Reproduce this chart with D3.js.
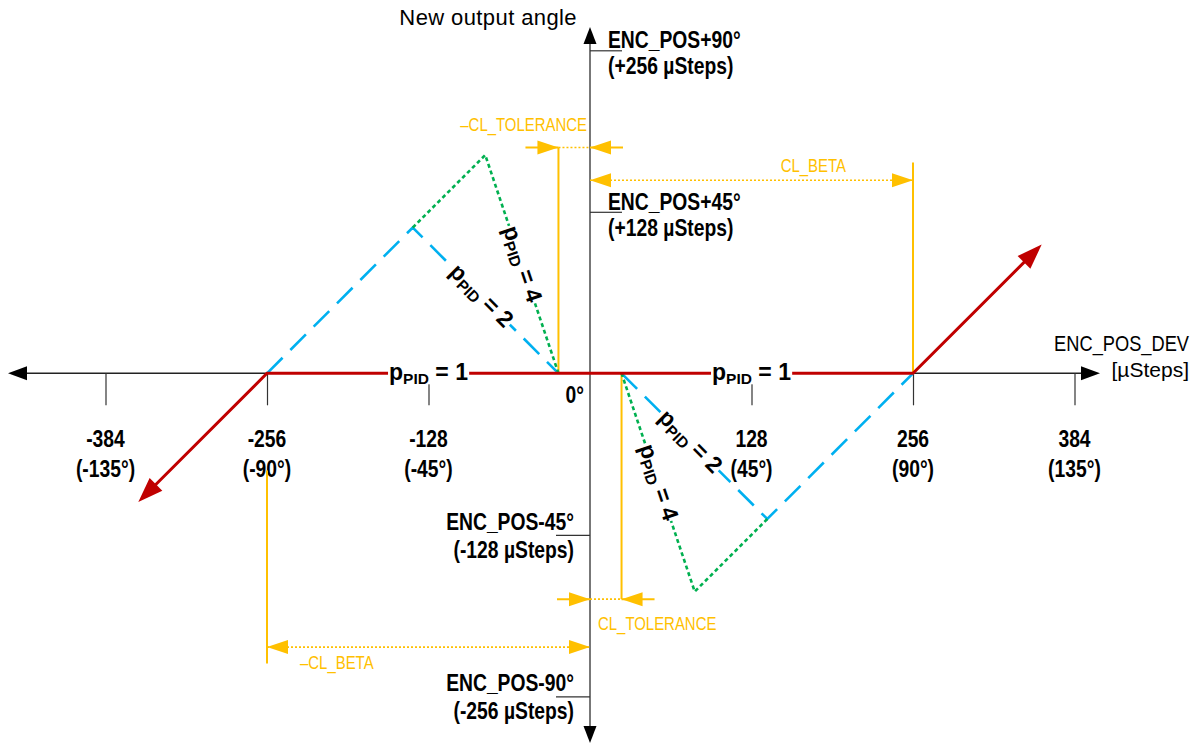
<!DOCTYPE html>
<html>
<head>
<meta charset="utf-8">
<script src="https://cdn.jsdelivr.net/npm/d3@7"></script>
<style>
  body { margin: 0; background: #fff; }
  svg { display: block; font-family: "Liberation Sans", Arial, sans-serif; }
  text { white-space: pre; }
</style>
</head>
<body>
<svg id="chart" width="1201" height="744"></svg>
<script>
// Data
// ----
const xTicks = [-384, -256, -128, 128, 256, 384];
const xTickAngles = ["(-135°)", "(-90°)", "(-45°)", "(45°)", "(90°)", "(135°)"];
const yTicks = [256, 128, -128, -256];
const yTickNames = ["ENC_POS+90°", "ENC_POS+45°", "ENC_POS-45°", "ENC_POS-90°"];
const yTickSteps = ["(+256 µSteps)", "(+128 µSteps)", "(-128 µSteps)", "(-256 µSteps)"];

const clTolerance = 25;
const clBeta = 256;

// new output angle over ENC_POS_DEV, one polyline per pPID
const pid1Line = [[-358, -102], [-256, 0], [256, 0], [358, 102]];
const pid2Left = [[-256, 0], [-140.5, 115.5], [-25, 0]];
const pid2Right = [[25, 0], [140.5, -115.5], [256, 0]];
const pid4Left = [[-140.5, 115.5], [-83, 173], [-25, 0]];
const pid4Right = [[140.5, -115.5], [83, -173], [25, 0]];

// Colours
const RED = "#c00000", BLUE = "#00b0f0", GREEN = "#00b050", GOLD = "#ffc000";

// Scales
// ------
const svg = d3.select("#chart");
const x = d3.scaleLinear().domain([-384, 384]).range([105.5, 1074.5]);
const y = d3.scaleLinear().domain([-256, 256]).range([696.3, 50.3]);
const line = d3.line().x(d => x(d[0])).y(d => y(d[1]));
const x0 = x(0), y0 = y(0);

function arrowHead(g, tx, ty, angle, len, half, color) {
  const ca = Math.cos(angle), sa = Math.sin(angle);
  const bx = tx - len * ca, by = ty - len * sa;
  const pts = [[tx, ty], [bx - half * sa, by + half * ca], [bx + half * sa, by - half * ca]];
  g.append("path").attr("d", "M" + pts.join("L") + "Z").attr("fill", color);
}

// text squeezed horizontally (the original uses a condensed face)
function label(g, str, px, py, o) {
  o = Object.assign({ size: 23, weight: "bold", anchor: "start", fill: "#000", sx: 0.84 }, o);
  return g.append("text")
    .attr("transform", `translate(${px},${py}) scale(${o.sx},1)`)
    .attr("font-size", o.size).attr("font-weight", o.weight)
    .attr("text-anchor", o.anchor).attr("fill", o.fill).text(str);
}

// Axes
// ----
const axes = svg.append("g");
axes.append("line").attr("x1", 12).attr("x2", 1096).attr("y1", y0).attr("y2", y0)
  .attr("stroke", "#222").attr("stroke-width", 1.5);
arrowHead(axes, 8, y0, Math.PI, 19, 7, "#000");
arrowHead(axes, 1100, y0, 0, 19, 7, "#000");

axes.append("line").attr("x1", x0).attr("x2", x0).attr("y1", 32).attr("y2", 738)
  .attr("stroke", "#777").attr("stroke-width", 2);
arrowHead(axes, x0, 27, -Math.PI / 2, 17, 6.5, "#000");
arrowHead(axes, x0, 743, Math.PI / 2, 17, 6.5, "#000");

const gx = axes.append("g").attr("transform", `translate(0,${y0})`)
  .call(d3.axisBottom(x).tickValues(xTicks).tickSize(32).tickFormat(""));
gx.select(".domain").remove();
gx.selectAll(".tick line").attr("stroke", "#333").attr("stroke-width", 1.2);

const gyPos = axes.append("g").attr("transform", `translate(${x0},0)`)
  .call(d3.axisRight(y).tickValues(yTicks.filter(v => v > 0)).tickSize(32).tickFormat(""));
const gyNeg = axes.append("g").attr("transform", `translate(${x0},0)`)
  .call(d3.axisLeft(y).tickValues(yTicks.filter(v => v < 0)).tickSize(34).tickFormat(""));
[gyPos, gyNeg].forEach(g => {
  g.select(".domain").remove();
  g.selectAll(".tick line").attr("stroke", "#333").attr("stroke-width", 1.2);
});

// Tick labels
const tickText = svg.append("g");
xTicks.forEach((v, i) => {
  label(tickText, String(v), x(v), y0 + 74, { anchor: "middle" });
  label(tickText, xTickAngles[i], x(v), y0 + 104, { anchor: "middle" });
});
label(tickText, "0°", x0 - 6, y0 + 30, { anchor: "end" });

yTicks.forEach((v, i) => {
  const pos = v > 0;
  const tx = pos ? x0 + 18 : x0 - 16;
  const anchor = pos ? "start" : "end";
  label(tickText, yTickNames[i], tx, y(v) + (pos ? -2 : -5), { anchor });
  label(tickText, yTickSteps[i], tx, y(v) + (pos ? 24 : 23), { anchor });
});

// Axis titles
svg.append("text").attr("font-size", 22).attr("letter-spacing", 0.4)
  .attr("text-anchor", "end").attr("x", x0 - 13).attr("y", 25).text("New output angle");
label(svg, "ENC_POS_DEV", 1189, 351, { size: 22, weight: "normal", anchor: "end", sx: 0.83 });
svg.append("text").attr("font-size", 21)
  .attr("text-anchor", "end").attr("x", 1189).attr("y", 377).text("[µSteps]");

// CL_TOLERANCE / CL_BETA dimensions
// ---------------------------------
const dims = svg.append("g");
function vLine(xv, ya, yb) {
  dims.append("line").attr("x1", x(xv)).attr("x2", x(xv)).attr("y1", y(ya)).attr("y2", y(yb))
    .attr("stroke", GOLD).attr("stroke-width", 2);
}
function dimLine(xa, xb, yv, tailA, tailB) {
  const py = y(yv), pa = x(xa), pb = x(xb);
  dims.append("line").attr("x1", pa).attr("x2", pb).attr("y1", py).attr("y2", py)
    .attr("stroke", GOLD).attr("stroke-width", 1.6).attr("stroke-dasharray", "2,2");
  // arrow at each end; with a tail the arrow comes from outside and points inwards
  const dirA = tailA ? Math.sign(pb - pa) : Math.sign(pa - pb);
  const dirB = tailB ? Math.sign(pa - pb) : Math.sign(pb - pa);
  [[pa, dirA, tailA], [pb, dirB, tailB]].forEach(([p, dir, tail]) => {
    if (tail) {
      dims.append("line").attr("x1", p - dir * 33).attr("x2", p).attr("y1", py).attr("y2", py)
        .attr("stroke", GOLD).attr("stroke-width", 2);
    }
    arrowHead(dims, p, py, dir > 0 ? 0 : Math.PI, 21, 7, GOLD);
  });
}
function dimText(txt, px, py, anchor) {
  label(dims, txt, px, py, { size: 18, weight: "normal", anchor, fill: GOLD, sx: 0.83 });
}

vLine(-clTolerance, 179, 0);
dimLine(-clTolerance, 0, 179, true, true);
dimText("–CL_TOLERANCE", x0 - 3, y(179) - 16, "end");

vLine(clBeta, 167, 0);
dimLine(0, clBeta, 153, false, false);
dimText("CL_BETA", x(177), y(153) - 8, "middle");

vLine(clTolerance, 0, -179);
dimLine(0, clTolerance, -179, true, true);
dimText("CL_TOLERANCE", x0 + 8, y(-179) + 31, "start");

vLine(-clBeta, -77, -230);
dimLine(-clBeta, 0, -217, false, false);
dimText("–CL_BETA", x(-256) + 33, y(-217) + 22, "start");

// pPID curves
// -----------
const curves = svg.append("g").attr("fill", "none");
[pid2Left, pid2Right].forEach(d => {
  curves.append("path").attr("d", line(d)).attr("stroke", BLUE)
    .attr("stroke-width", 2.6).attr("stroke-dasharray", "22,11");
});
[pid4Left, pid4Right].forEach(d => {
  curves.append("path").attr("d", line(d)).attr("stroke", GREEN)
    .attr("stroke-width", 2.6).attr("stroke-dasharray", "4,3");
});

// pPID = 1, shortened at both ends so the arrow tips stay sharp
const redPx = pid1Line.map(d => [x(d[0]), y(d[1])]);
function trim(a, b, by) {
  const dx = a[0] - b[0], dy = a[1] - b[1], l = Math.hypot(dx, dy);
  return [a[0] - dx / l * by, a[1] - dy / l * by];
}
const n = redPx.length;
const redTrim = [trim(redPx[0], redPx[1], 12), ...redPx.slice(1, n - 1), trim(redPx[n - 1], redPx[n - 2], 12)];
curves.append("path").attr("d", d3.line()(redTrim)).attr("stroke", RED).attr("stroke-width", 3);
[[redPx[0], redPx[1]], [redPx[n - 1], redPx[n - 2]]].forEach(([tip, from]) => {
  arrowHead(curves, tip[0], tip[1], Math.atan2(tip[1] - from[1], tip[0] - from[0]), 25, 9, RED);
});

// pPID labels
// -----------
const labels = svg.append("g");
function pidLabel(a, b, t, value) {
  const pa = [x(a[0]), y(a[1])], pb = [x(b[0]), y(b[1])];
  const cx = pa[0] + (pb[0] - pa[0]) * t, cy = pa[1] + (pb[1] - pa[1]) * t;
  const ang = Math.atan2(pb[1] - pa[1], pb[0] - pa[0]) * 180 / Math.PI;
  const g = labels.append("g").attr("transform", `translate(${cx},${cy}) rotate(${ang})`);
  const txt = g.append("text").attr("font-weight", "bold")
    .attr("text-anchor", "middle").attr("y", 7);
  txt.append("tspan").attr("font-size", 23).text("p");
  txt.append("tspan").attr("font-size", 15.5).attr("dy", 4).text("PID");
  txt.append("tspan").attr("font-size", 23).attr("dy", -4).text(" = " + value);
  const bb = txt.node().getBBox();
  g.insert("rect", "text").attr("x", bb.x - 1).attr("y", bb.y + 4)
    .attr("width", bb.width + 2).attr("height", bb.height - 7).attr("fill", "#fff");
}
pidLabel([-160, 0], [-96, 0], 0.5, 1);
pidLabel([96, 0], [160, 0], 0.5, 1);
pidLabel(pid2Left[1], pid2Left[2], 0.47, 2);
pidLabel(pid4Left[1], pid4Left[2], 0.5, 4);
pidLabel(pid2Right[0], pid2Right[1], 0.47, 2);
pidLabel(pid4Right[2], pid4Right[1], 0.5, 4);
</script>
</body>
</html>
